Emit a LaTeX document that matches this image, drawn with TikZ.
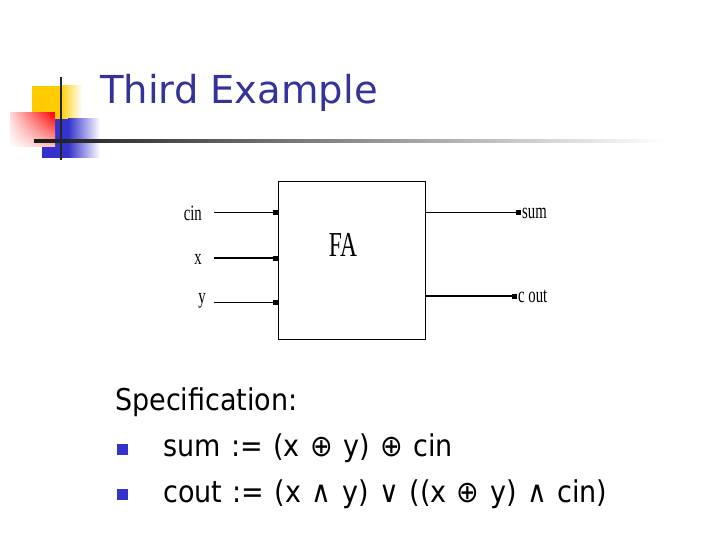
\documentclass[tikz,border=0pt]{standalone}
\usepackage{fontspec}
\usepackage{graphicx}
\setmainfont{DejaVu Sans}
\newfontfamily\bodyfont{DejaVu Sans Condensed}
\newfontfamily\serifcond{Liberation Serif}
\usetikzlibrary{arrows.meta,shadings}
\definecolor{titleblue}{RGB}{51,51,153}
\definecolor{bulletblue}{RGB}{51,51,204}
\definecolor{logoyellow}{RGB}{255,204,0}
\definecolor{logoblue}{RGB}{51,51,204}
\tikzset{
  wire/.style={line width=1pt,-{Square[length=5pt,width=5pt]}},
  thickwire/.style={line width=2pt,-{Square[length=5pt,width=5pt]}},
  lbl/.style={inner sep=0pt,font=\serifcond\fontsize{22}{22}\selectfont},
  body/.style={inner sep=0pt,anchor=base west,font=\bodyfont\fontsize{30}{32}\selectfont},
  bullet/.style={fill=bulletblue,draw=none,minimum size=11pt,inner sep=0pt}
}
\newcommand{\cond}[1]{\scalebox{0.67}[1]{#1}}
\newcommand{\wsp}{\spaceskip=10.5pt\relax}
\begin{document}
\begin{tikzpicture}[x=1pt,y=-1pt]
\useasboundingbox (0,0) rectangle (720,540);
\fill[white] (0,0) rectangle (720,540);
% logo
\fill[logoyellow] (32,86) rectangle (60,119);
\shade[left color=logoyellow,right color=white] (60,86) rectangle (82,119);
\fill[logoblue] (42,119) rectangle (68,158);
\shade[left color=logoblue,right color=white] (68,119) rectangle (100,158);
\shade[upper left=red!15,upper right=red,lower left=white,lower right=red!25] (10,113) rectangle (55,147);
\shade[left color=black!90,right color=white] (34,139.5) rectangle (665,142.5);
\draw[line width=2.5pt,black!85] (61,77) -- (61,160);
% title
\node[anchor=base west,inner sep=0pt,text=titleblue,font=\fontsize{38.5}{40}\selectfont] (title) at (100,104) {Third Example};
% FA box
\node[draw,line width=1.2pt,minimum width=147pt,minimum height=158pt,anchor=north west,inner sep=0pt] (fa) at (278,181) {};
\node[lbl,font=\serifcond\fontsize{35}{35}\selectfont] (falbl) at (343,245) {\cond{FA}};
% input labels
\node[lbl,anchor=east] (cin) at (202,213) {\cond{cin}};
\node[lbl,anchor=east] (x) at (202,259) {\cond{x}};
\node[lbl,anchor=east] (y) at (206,301) {\cond{y}};
\coordinate (cinS) at (214,213);
\coordinate (xS) at (214,258);
\coordinate (yS) at (214,302);
\draw[wire] (cinS) -- (cinS -| fa.west);
\draw[thickwire] (xS) -- (xS -| fa.west);
\draw[wire] (yS) -- (yS -| fa.west);
% outputs
\node[lbl,anchor=west] (sum) at (522,213) {\cond{sum}};
\node[lbl,anchor=west] (cout) at (518,296) {\cond{c out}};
\draw[wire] (fa.east |- sum.west) -- ([xshift=-1pt]sum.west);
\draw[thickwire] (fa.east |- cout.west) -- ([xshift=-1pt]cout.west);
% specification
\node[body] (spec) at (115,410) {Specification:};
\node[bullet] (b1) at (122.5,449) {};
\node[bullet] (b2) at (122.5,494) {};
\node[body] (l1) at (163,456) {\wsp sum := (x ⊕ y) ⊕ cin};
\node[body] (l2) at (163,502) {\wsp cout := (x ∧ y) ∨ ((x ⊕ y) ∧ cin)};
\end{tikzpicture}
\end{document}
